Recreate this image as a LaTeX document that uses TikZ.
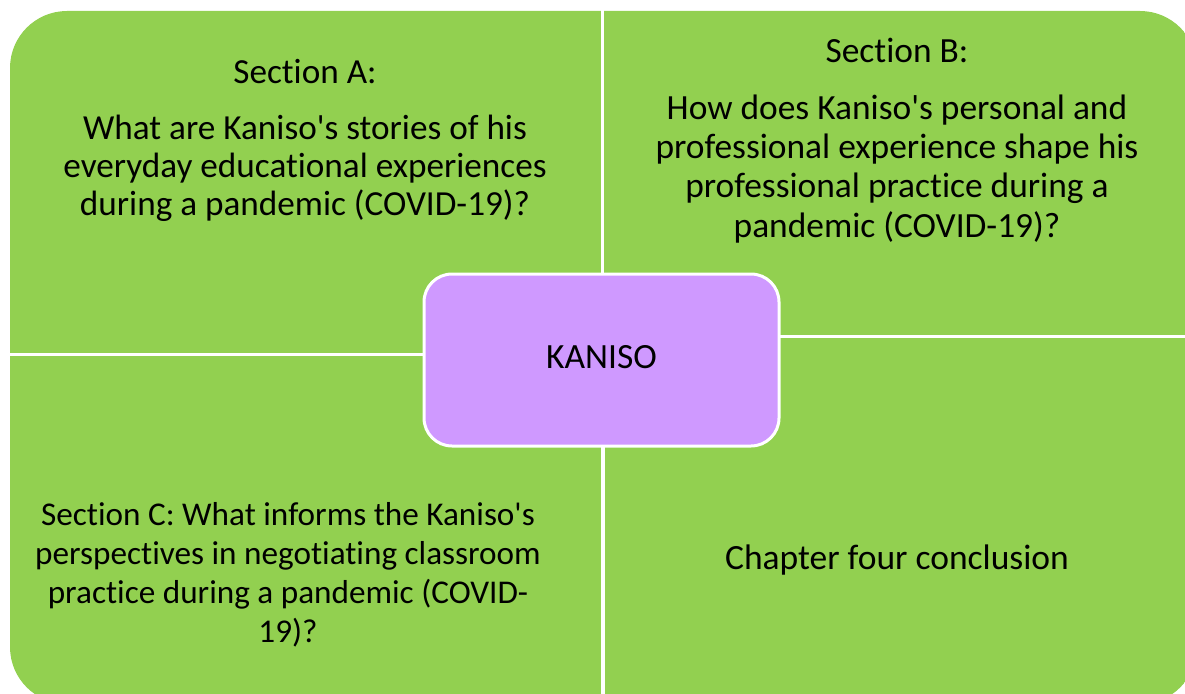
\documentclass[tikz,border=0pt]{standalone}
\usepackage{fontspec}
\setmainfont{Carlito}[Ligatures={TeXOff,CommonOff}]
\definecolor{quadgreen}{RGB}{146,208,80}
\definecolor{kpurple}{RGB}{207,153,255}
\tikzset{
  quad/.style={fill=quadgreen},
  txt/.style={inner sep=0pt, align=center, text=black, font=\fontsize{35.2}{38}\selectfont},
  centerbox/.style={draw=white, line width=3pt, fill=kpurple, rounded corners=28pt,
    minimum width=355pt, minimum height=172pt, inner sep=0pt, text depth=6pt,
    font=\fontsize{35.5}{38}\selectfont}
}
\begin{document}
\begin{tikzpicture}[x=1pt,y=-1pt]
\useasboundingbox (0,0) rectangle (1185,693);
\begin{scope}
  \clip (0,0) rectangle (1185,693);
  \clip[rounded corners=57pt] (10,11) rectangle (1197,704);
  \fill[quad] (0,0) rectangle (600.5,352.5);
  \fill[quad] (603.8,0) rectangle (1200,334.8);
  \fill[quad] (0,356.2) rectangle (601.2,710);
  \fill[quad] (604.8,338.2) rectangle (1200,710);
\end{scope}
\node[centerbox] (kaniso) at (601.5,360) {KANISO};
\node[txt, anchor=base] (secA) at (305,215) {Section A:\\[18pt]
  What are Kaniso's stories of his\\
  everyday educational experiences\\
  during a pandemic (COVID-19)?};
\node[txt, anchor=base, font=\fontsize{35.4}{39.3}\selectfont] (secB) at (897,237) {Section B:\\[17.7pt]
  How does Kaniso's personal and\\
  professional experience shape his\\
  professional practice during a\\
  pandemic (COVID-19)?};
\node[txt, anchor=base, font=\fontsize{33.2}{39}\selectfont] (secC) at (288,642) {Section C: What informs the Kaniso's\\
  perspectives in negotiating classroom\\
  practice during a pandemic (COVID-\\
  19)?};
\node[txt, anchor=base, font=\fontsize{35.5}{38}\selectfont] (concl) at (897,569) {Chapter four conclusion};
\end{tikzpicture}
\end{document}
